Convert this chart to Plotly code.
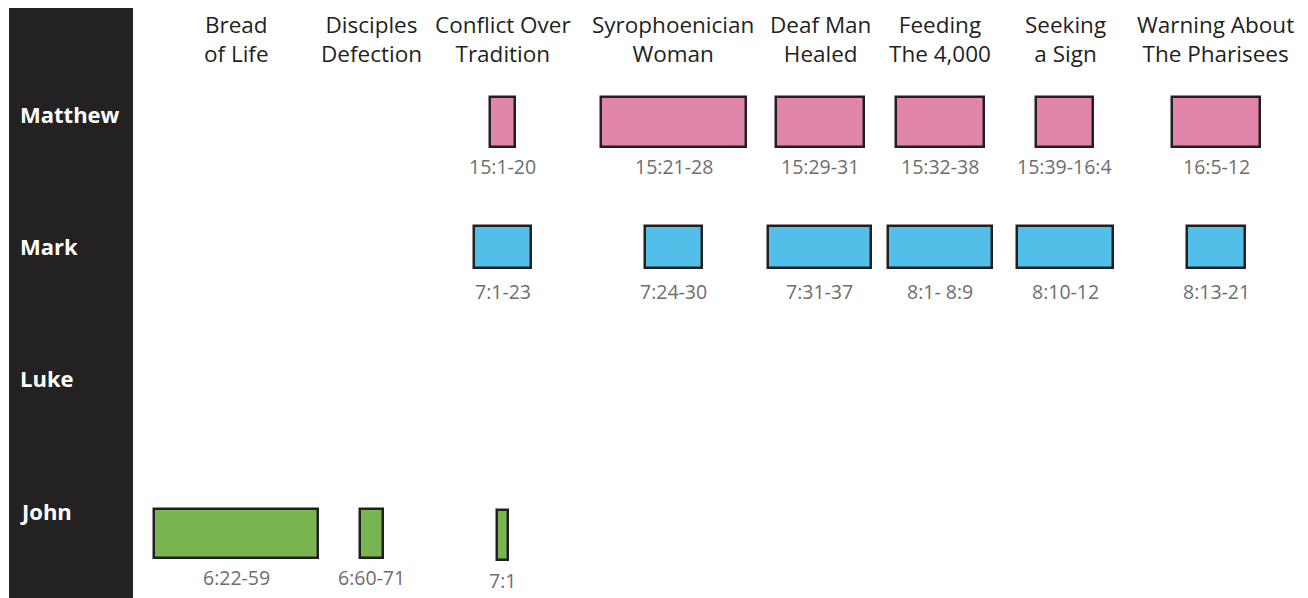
import plotly.graph_objects as go

# ---------------- data ----------------
headers = ["Bread<br>of Life", "Disciples<br>Defection", "Conflict Over<br>Tradition",
           "Syrophoenician<br>Woman", "Deaf Man<br>Healed", "Feeding<br>The 4,000",
           "Seeking<br>a Sign", "Warning About<br>The Pharisees"]
header_x = [236, 371, 503, 673, 820, 940, 1065, 1215]

gospels = ["Matthew", "Mark", "Luke", "John"]

matthew_refs = ["15:1-20", "15:21-28", "15:29-31", "15:32-38", "15:39-16:4", "16:5-12"]
matthew_start = [489, 600, 775, 895, 1035, 1171]
matthew_end = [516, 747, 865, 985, 1094, 1261]

mark_refs = ["7:1-23", "7:24-30", "7:31-37", "8:1- 8:9", "8:10-12", "8:13-21"]
mark_start = [473, 644, 767, 887, 1016, 1186]
mark_end = [532, 703, 872, 993, 1114, 1246]

luke_refs = []
luke_start = []
luke_end = []

john_refs = ["6:22-59", "6:60-71", "7:1"]
john_start = [153, 359, 496]
john_end = [319, 384, 509]

# ---------------- layout constants ----------------
# the page body has an 8px margin, so the figure is placed at (8, 8)
OFF = 8
W, H = 1308, 598
row_label_y = {"Matthew": 114, "Mark": 246, "Luke": 378, "John": 511}
box_top = {"Matthew": [96] * 6, "Mark": [225] * 6, "Luke": [], "John": [507, 507, 508]}
box_bottom = {"Matthew": [148] * 6, "Mark": [269] * 6, "Luke": [], "John": [558, 558, 560]}
ref_y = {"Matthew": [166] * 6, "Mark": [291] * 6, "Luke": [], "John": [577, 577, 580]}
colors = {"Matthew": "#E186AA", "Mark": "#52BFE8", "Luke": "#F5A623", "John": "#79B652"}
edge = "#231F20"

series = {
    "Matthew": (matthew_refs, matthew_start, matthew_end),
    "Mark": (mark_refs, mark_start, mark_end),
    "Luke": (luke_refs, luke_start, luke_end),
    "John": (john_refs, john_start, john_end),
}

fig = go.Figure()
annotations = []

for g in gospels:
    refs, starts, ends = series[g]
    if not refs:
        continue
    tops = box_top[g]
    bots = box_bottom[g]
    fig.add_trace(go.Bar(
        orientation="h",
        base=[s + 1 for s in starts],
        x=[e - s - 2 for s, e in zip(starts, ends)],
        y=[(t + b) / 2 for t, b in zip(tops, bots)],
        width=[b - t - 2 for t, b in zip(tops, bots)],
        marker=dict(color=colors[g], line=dict(color=edge, width=2.5)),
        name=g,
        hoverinfo="skip",
        showlegend=False,
    ))
    for r, s, e, yy in zip(refs, starts, ends, ref_y[g]):
        annotations.append(dict(
            x=(s + e) / 2, y=yy, xref="x", yref="y", text=r, showarrow=False,
            xanchor="center", yanchor="middle",
            font=dict(family="Open Sans", size=19.5, color="#6D6E71"),
        ))

for h, hx in zip(headers, header_x):
    annotations.append(dict(
        x=hx, y=38.5, xref="x", yref="y", text=h, showarrow=False,
        xanchor="center", yanchor="middle", borderpad=0,
        font=dict(family="Open Sans", size=22.5, color="#231F20"),
    ))

for g in gospels:
    annotations.append(dict(
        x=18, y=row_label_y[g], xref="x", yref="y", text="<b>" + g + "</b>",
        showarrow=False, xanchor="left", yanchor="middle",
        font=dict(family="Open Sans", size=22, color="white"),
    ))

fig.update_layout(
    width=W - OFF, height=H - OFF,
    margin=dict(l=0, r=0, t=0, b=0),
    paper_bgcolor="white", plot_bgcolor="white",
    xaxis=dict(range=[OFF, W], visible=False, fixedrange=True),
    yaxis=dict(range=[H, OFF], visible=False, fixedrange=True),
    shapes=[dict(type="rect", xref="x", yref="y", x0=9, x1=133, y0=8, y1=H + 5,
                 fillcolor="#242122", line=dict(width=0), layer="below")],
    annotations=annotations,
    bargap=0,
)

fig.write_html("out.html", config={"displayModeBar": False})
